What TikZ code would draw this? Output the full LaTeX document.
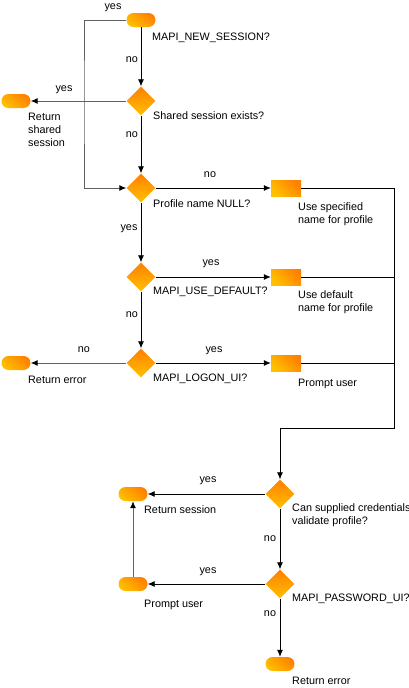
\documentclass[tikz,border=0pt]{standalone}
\usepackage{fontspec}
\setmainfont{Liberation Sans}
\usetikzlibrary{shapes.geometric,arrows.meta}
\definecolor{mapiyellow}{HTML}{FFC000}
\definecolor{mapiorange}{HTML}{FF8000}

\begin{document}
\begin{tikzpicture}[x=1pt, y=-1pt,
        font=\fontsize{10.8}{13}\selectfont,
        flowline/.style={line width=0.8pt, black},
        grayline/.style={line width=1pt, black!62},
        thinline/.style={line width=0.7pt, black},
        tip/.style={-{Latex[length=7pt,width=6pt,color=black]}},
        terminal/.style={rectangle, rounded corners=7pt, minimum width=29pt, minimum height=14pt, inner sep=0pt,
            left color=mapiyellow, right color=mapiorange, shading angle=140},
        decision/.style={diamond, minimum width=29pt, minimum height=29pt, inner sep=0pt,
            top color=mapiorange, bottom color=mapiyellow},
        process/.style={rectangle, minimum width=30pt, minimum height=16pt, inner sep=0pt,
            left color=mapiyellow, right color=mapiorange, shading angle=135},
        caption/.style={anchor=base west, inner sep=0pt},
        multicap/.style={anchor=north west, inner sep=0pt, align=left},
        answer/.style={inner sep=0pt}]
        \useasboundingbox (0,0) rectangle (409,688);

        % shapes
        \node[terminal] (start) at (141,20) {};
        \node[decision] (shared) at (141,101) {};
        \node[terminal] (retshared) at (16,101) {};
        \node[decision] (nullname) at (141,188) {};
        \node[process] (specname) at (286,188) {};
        \node[decision] (usedef) at (141,277) {};
        \node[process] (defname) at (286,277) {};
        \node[decision] (logonui) at (141,363) {};
        \node[terminal] (reterr) at (16,363) {};
        \node[process] (prompt) at (286,363) {};
        \node[decision] (validate) at (280,494) {};
        \node[terminal] (retsess) at (133,494) {};
        \node[decision] (pwdui) at (280,584) {};
        \node[terminal] (prompttwo) at (133,584) {};
        \node[terminal] (reterrtwo) at (280,664) {};

        \coordinate (loop) at (84,100);
        \coordinate (merge) at (394,428);

        % captions
        \node[caption] (cstart) at (152,40) {MAPI\_NEW\_SESSION?};
        \node[caption] (cshared) at (153,119) {Shared session exists?};
        \node[multicap] (cretshared) at (28,113) {Return\\shared\\session};
        \node[caption] (cnull) at (153,207) {Profile name NULL?};
        \node[multicap] (cspec) at (298,202) {Use specified\\name for profile};
        \node[caption] (cusedef) at (153,294) {MAPI\_USE\_DEFAULT?};
        \node[multicap] (cdef) at (298,290) {Use default\\name for profile};
        \node[caption] (clogon) at (153,381) {MAPI\_LOGON\_UI?};
        \node[caption] (creterr) at (28,383) {Return error};
        \node[caption] (cprompt) at (298,386) {Prompt user};
        \node[multicap] (cvalid) at (292,503) {Can supplied credentials\\validate profile?};
        \node[caption] (cretsess) at (144,513) {Return session};
        \node[caption] (cpwd) at (292,601) {MAPI\_PASSWORD\_UI?};
        \node[caption] (cprompttwo) at (144,607) {Prompt user};
        \node[caption] (creterrtwo) at (292,684) {Return error};

        % answers
        \node[answer] (a1) at (113,8) {yes};
        \node[answer] (a2) at (132,60) {no};
        \node[answer] (a3) at (64,90) {yes};
        \node[answer] (a4) at (132,135) {no};
        \node[answer] (a5) at (210,175) {no};
        \node[answer] (a6) at (129,229) {yes};
        \node[answer] (a7) at (211,264) {yes};
        \node[answer] (a8) at (132,315) {no};
        \node[answer] (a9) at (84,350) {no};
        \node[answer] (a10) at (214,351) {yes};
        \node[answer] (a11) at (208,481) {yes};
        \node[answer] (a12) at (270,539) {no};
        \node[answer] (a13) at (208,572) {yes};
        \node[answer] (a14) at (270,614) {no};

        % connectors
        \draw[grayline,tip] (start.west) -| (loop) |- (nullname.west);
        \draw[flowline,tip] (start) -- (shared);
        \draw[grayline,tip] (shared) -- (retshared);
        \draw[flowline,tip] (shared) -- (nullname);
        \draw[flowline,tip] (nullname) -- (specname);
        \draw[flowline,tip] (nullname) -- (usedef);
        \draw[flowline,tip] (usedef) -- (defname);
        \draw[flowline,tip] (usedef) -- (logonui);
        \draw[grayline,tip] (logonui) -- (reterr);
        \draw[flowline,tip] (logonui) -- (prompt);
        \draw[thinline,tip] (specname.east) -| (merge) -| (validate.north);
        \draw[thinline] (defname.east) -- (defname.east -| merge);
        \draw[thinline] (prompt.east) -- (prompt.east -| merge);
        \draw[flowline,tip] (validate) -- (retsess);
        \draw[flowline,tip] (validate) -- (pwdui);
        \draw[flowline,tip] (pwdui) -- (prompttwo);
        \draw[grayline,tip] (prompttwo) -- (retsess);
        \draw[flowline,tip] (pwdui) -- (reterrtwo);
    \end{tikzpicture}
\end{document}
